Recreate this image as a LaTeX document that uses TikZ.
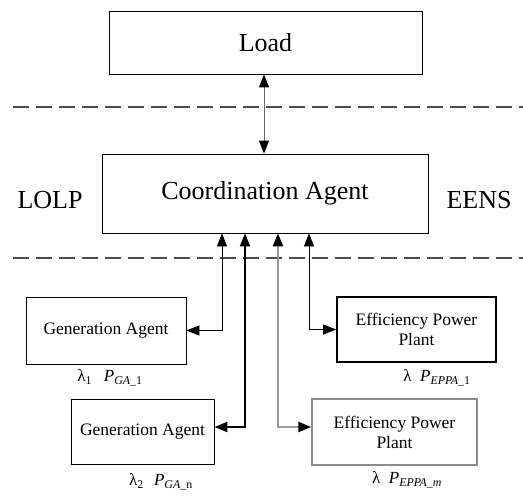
\documentclass[tikz,border=0pt]{standalone}
\usepackage{fontspec}
\setmainfont{Liberation Serif}
\usetikzlibrary{arrows.meta}
\begin{document}
\begin{tikzpicture}[x=1pt,y=-1pt,
  box/.style={draw, line width=0.8pt, rectangle, inner sep=0pt, align=center},
  bigtxt/.style={font=\fontsize{26}{28}\selectfont},
  smalltxt/.style={font=\fontsize{17.5}{20}\selectfont},
  lbl/.style={font=\fontsize{17}{19}\selectfont, inner sep=0pt},
  arr/.style={arrows={Triangle[length=13pt,width=10pt,color=black]-Triangle[length=13pt,width=10pt,color=black]}, line width=0.8pt},
  sep/.style={draw=black!70, line width=1.3pt, dash pattern=on 16pt off 7pt}
]
\useasboundingbox (0,0) rectangle (523,498);

% dashed separators
\coordinate (d1a) at (13,107);
\coordinate (d1b) at (523,107);
\coordinate (d2a) at (13,258);
\coordinate (d2b) at (523,258);
\draw[sep] (d1a) -- (d1b);
\draw[sep] (d2a) -- (d2b);

% nodes
\node[box, bigtxt, minimum width=313pt, minimum height=63pt] (load) at (265.5,42.5) {Load};
\node[box, bigtxt, minimum width=326pt, minimum height=79pt] (coord) at (265,193.5) {Coordination Agent};
\node[bigtxt, inner sep=0pt] (lolp) at (50,200) {LOLP};
\node[bigtxt, inner sep=0pt] (eens) at (479,200) {EENS};

\node[box, smalltxt, minimum width=160pt, minimum height=67pt] (ga1) at (106,330.5) {Generation Agent};
\node[box, smalltxt, minimum width=143pt, minimum height=65pt] (ga2) at (142.5,431.5) {Generation Agent};
\node[box, smalltxt, line width=1.8pt, minimum width=159pt, minimum height=65pt] (epp1) at (416.5,329.5) {Efficiency Power\\Plant};
\node[box, smalltxt, draw=black!45, line width=1.5pt, minimum width=165pt, minimum height=66pt] (epp2) at (394.5,432) {Efficiency Power\\Plant};

% labels
\node[lbl] (l1) at (110,378) {λ\textsubscript{1}\hspace{0.7em}\textit{P}\textsubscript{\textit{GA}\_1}};
\node[lbl] (l2) at (161,482) {λ\textsubscript{2}\hspace{0.6em}\textit{P}\textsubscript{\textit{GA}\_n}};
\node[lbl] (l3) at (437,378) {λ\hspace{0.5em}\textit{P}\textsubscript{\textit{EPPA}\_1}};
\node[lbl] (l4) at (407,480) {λ\hspace{0.5em}\textit{P}\textsubscript{\textit{EPPA}\_\textit{m}}};

% connectors
\draw[arr, draw=black!60, line width=1pt] ([xshift=-1.5pt]load.south) -- ([xshift=-1pt]coord.north);
\draw[arr] (ga1.east) -| ([xshift=-43pt]coord.south);
\draw[arr, line width=2pt] ([yshift=4.5pt]ga2.east) -| ([xshift=-20pt]coord.south);
\draw[arr, draw=black!40, line width=2.5pt] ([yshift=5pt]epp2.west) -| ([xshift=13pt]coord.south);
\draw[arr] (epp1.west) -| ([xshift=44pt]coord.south);
\end{tikzpicture}
\end{document}
